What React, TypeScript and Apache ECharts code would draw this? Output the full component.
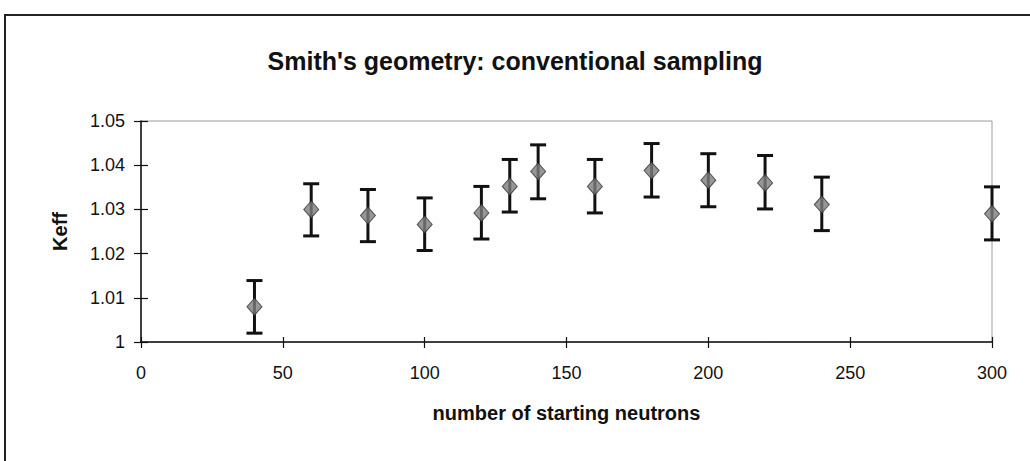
import React, { useEffect, useRef } from "react";
import * as echarts from "echarts";

const xValues = [40, 60, 80, 100, 120, 130, 140, 160, 180, 200, 220, 240, 300];
const keff = [1.008, 1.030, 1.0286, 1.0266, 1.0292, 1.0352, 1.0386, 1.0352, 1.0388, 1.0366, 1.036, 1.0311, 1.029];
const lower = [1.002, 1.024, 1.0227, 1.0207, 1.0233, 1.0294, 1.0324, 1.0292, 1.0328, 1.0306, 1.0301, 1.0252, 1.0231];
const upper = [1.0139, 1.0358, 1.0345, 1.0326, 1.0352, 1.0413, 1.0446, 1.0413, 1.0449, 1.0426, 1.0422, 1.0373, 1.0351];

const FONT = "Liberation Sans, Arial, sans-serif";

export default function App() {
  const ref = useRef<HTMLDivElement>(null);
  useEffect(() => {
    document.body.style.margin = "0";
    if (!ref.current) return;
    const chart = echarts.init(ref.current, null, { renderer: "svg" });
    const errData = xValues.map((x, i) => [x, lower[i], upper[i]]);
    const ptData = xValues.map((x, i) => [x, keff[i]]);
    const tickStyle = { color: "#111", width: 1.2 };
    chart.setOption({
      animation: false,
      backgroundColor: "#ffffff",
      title: {
        text: "Smith's geometry: conventional sampling",
        left: "center",
        top: 43,
        textStyle: { fontFamily: FONT, fontSize: 25, fontWeight: "bold", color: "#111" },
      },
      graphic: [
        {
          type: "rect",
          shape: { x: 5, y: 15, width: 1040, height: 470 },
          style: { fill: "none", stroke: "#222", lineWidth: 2 },
          silent: true,
        },
      ],
      grid: {
        left: 141,
        top: 121,
        right: 38,
        bottom: 119,
        show: true,
        borderColor: "#9a9a9a",
        borderWidth: 1,
        backgroundColor: "transparent",
      },
      xAxis: [
        {
          type: "value",
          min: 0,
          max: 300,
          interval: 50,
          name: "number of starting neutrons",
          nameLocation: "middle",
          nameGap: 61,
          nameTextStyle: { fontFamily: FONT, fontSize: 20, fontWeight: "bold", color: "#111" },
          axisLine: { show: true, onZero: false, lineStyle: { color: "#111", width: 1.5 } },
          axisTick: { show: true, inside: false, length: 6, lineStyle: tickStyle },
          axisLabel: { fontFamily: FONT, fontSize: 18, color: "#111", margin: 22 },
          splitLine: { show: false },
        },
        {
          type: "value",
          min: 0,
          max: 300,
          interval: 50,
          position: "bottom",
          axisLine: { show: false, onZero: false },
          axisTick: { show: true, inside: true, length: 5, lineStyle: tickStyle },
          axisLabel: { show: false },
          splitLine: { show: false },
        },
      ],
      yAxis: [
        {
          type: "value",
          min: 1,
          max: 1.05,
          interval: 0.01,
          name: "Keff",
          nameLocation: "middle",
          nameGap: 71,
          nameTextStyle: { fontFamily: FONT, fontSize: 20, fontWeight: "bold", color: "#111" },
          axisLine: { show: true, lineStyle: { color: "#111", width: 1.5 } },
          axisTick: { show: true, inside: false, length: 7, lineStyle: tickStyle },
          axisLabel: {
            fontFamily: FONT,
            fontSize: 18,
            color: "#111",
            margin: 16,
            formatter: (v: number) => String(parseFloat(v.toFixed(2))),
          },
          splitLine: { show: false },
        },
        {
          type: "value",
          min: 1,
          max: 1.05,
          interval: 0.01,
          position: "left",
          axisLine: { show: false },
          axisTick: { show: true, inside: true, length: 7, lineStyle: tickStyle },
          axisLabel: { show: false },
          splitLine: { show: false },
        },
      ],
      series: [
        {
          type: "custom",
          data: errData,
          z: 2,
          renderItem: (params: any, api: any) => {
            const x = api.value(0);
            const lo = api.coord([x, api.value(1)]);
            const hi = api.coord([x, api.value(2)]);
            const cap = 8;
            const style = { stroke: "#111", lineWidth: 3 };
            return {
              type: "group",
              children: [
                { type: "line", shape: { x1: lo[0], y1: lo[1], x2: hi[0], y2: hi[1] }, style },
                { type: "line", shape: { x1: lo[0] - cap, y1: lo[1], x2: lo[0] + cap, y2: lo[1] }, style },
                { type: "line", shape: { x1: hi[0] - cap, y1: hi[1], x2: hi[0] + cap, y2: hi[1] }, style },
              ],
            };
          },
        },
        {
          type: "scatter",
          data: ptData,
          z: 3,
          symbol: "diamond",
          symbolSize: [15, 17],
          itemStyle: { color: "#7d7d7d", borderColor: "#333", borderWidth: 1 },
        },
      ],
    });
    return () => chart.dispose();
  }, []);
  return <div ref={ref} style={{ width: 1030, height: 461 }} />;
}
